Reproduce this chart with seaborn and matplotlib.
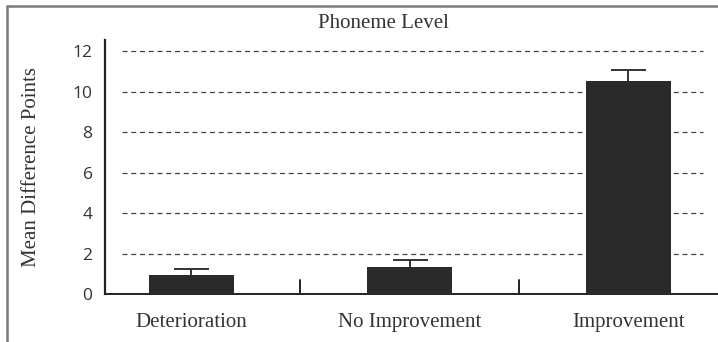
import numpy as np
import pandas as pd
import matplotlib
matplotlib.use("Agg")
import matplotlib.pyplot as plt
import seaborn as sns
from matplotlib.patches import Rectangle

categories = ["Deterioration", "No Improvement", "Improvement"]
mean_diff = [0.95, 1.33, 10.52]
err_upper = [0.28, 0.35, 0.54]
y_ticks = [0, 2, 4, 6, 8, 10, 12]

df = pd.DataFrame({"group": categories, "points": mean_diff})

sns.set_style("white")
fig = plt.figure(figsize=(7.18, 3.42), dpi=100)
ax = fig.add_axes([105 / 718, 48 / 342, 613 / 718, 254 / 342])

sns.barplot(data=df, x="group", y="points", order=categories, color="#2a2a2a",
            saturation=1, width=0.39, errorbar=None, ax=ax, zorder=3,
            linewidth=0, edgecolor="#2a2a2a")
eb = ax.errorbar(np.arange(len(categories)), mean_diff,
                 yerr=[np.zeros(len(categories)), err_upper],
                 fmt="none", ecolor="#333333", elinewidth=1.4, capsize=12.6,
                 capthick=1.4, zorder=2)
# only the upper cap is wanted
eb[1][0].set_visible(False)

# dashed horizontal guides
for t in y_ticks[1:]:
    ax.axhline(t, xmin=0.028, xmax=0.976, color="#444444", lw=0.9,
               ls=(0, (4, 3)), zorder=1)

ax.set_xlim(-0.394, 2.41)
ax.set_ylim(0, 12.55)
ax.set_yticks(y_ticks)
ax.set_yticklabels([str(t) for t in y_ticks], fontfamily="Open Sans",
                   fontsize=12.5, color="#333333")
ax.tick_params(axis="y", length=0, pad=9)
ax.tick_params(axis="x", length=0, pad=14)
ax.set_xticks(range(len(categories)))
ax.set_xticklabels(categories, fontfamily="Liberation Serif", fontsize=15,
                   color="#333333")

# small separator ticks between groups
for s in [0.5, 1.5]:
    ax.axvline(s, ymin=0, ymax=0.055, color="#222222", lw=1.4)

for side in ["top", "right"]:
    ax.spines[side].set_visible(False)
ax.spines["left"].set_color("#222222")
ax.spines["left"].set_linewidth(1.6)
ax.spines["bottom"].set_color("#222222")
ax.spines["bottom"].set_linewidth(1.4)

ax.set_xlabel("")
ax.set_ylabel("Mean Difference Points", fontfamily="Liberation Serif",
              fontsize=15, color="#333333")
ax.yaxis.set_label_coords((41 - 105) / 613, 0.5)
fig.text(383 / 718, 1 - 24 / 342, "Phoneme Level", ha="center", va="center",
         fontfamily="Liberation Serif", fontsize=15, color="#333333")

# frame left/top of the scanned figure
fig.add_artist(Rectangle((7 / 718, -0.2), 1.2, 1.2 - 6 / 342,
                         transform=fig.transFigure, fill=False,
                         edgecolor="#7a7a7a", lw=1.8))

fig.savefig("out.png", dpi=100)
